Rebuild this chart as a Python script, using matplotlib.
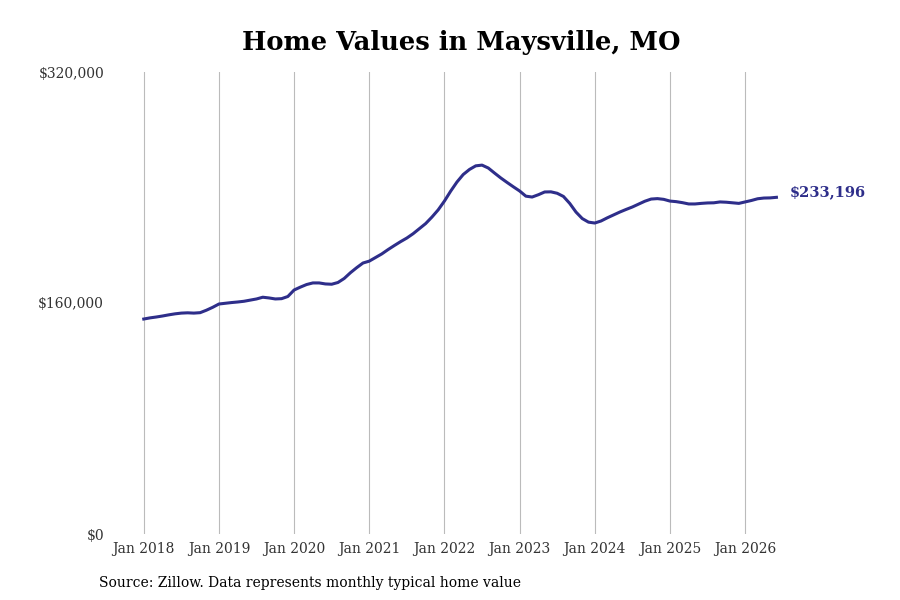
import matplotlib
matplotlib.use("Agg")
import matplotlib.pyplot as plt
import numpy as np

start_year = 2018
values_k = [
 148.9,149.7,150.3,151.0,151.8,152.5,153.0,153.2,153.0,153.3,155.0,157.0,
 159.3,159.8,160.3,160.7,161.2,162.0,162.8,164.0,163.5,162.8,163.0,164.5,
 169.0,171.0,172.8,173.9,173.9,173.2,173.0,174.2,177.0,181.0,184.5,187.7,
 189.0,191.5,194.0,197.0,199.8,202.5,205.0,208.0,211.5,215.0,219.5,224.5,
 230.6,237.5,243.8,249.0,252.5,255.0,255.5,253.5,250.0,246.6,243.5,240.5,
 237.6,234.0,233.4,235.0,236.9,237.0,236.0,233.8,229.0,223.0,218.5,216.0,
 215.4,216.8,219.0,221.0,223.0,224.8,226.5,228.5,230.5,232.0,232.3,231.8,
 230.6,230.2,229.5,228.6,228.6,229.0,229.3,229.4,230.0,229.8,229.4,229.0,
 230.0,231.0,232.2,232.7,232.8,233.196,
]
values = np.array(values_k) * 1000
x = start_year + np.arange(len(values)) / 12

plt.rcParams['font.family'] = ['DejaVu Serif']
fig = plt.figure(figsize=(9, 6), dpi=100)
ax = fig.add_axes([0.128, 0.11, 0.75, 0.77])
ax.plot(x, values, color='#2e2e8a', lw=2.2)
ax.set_ylim(0, 320000)
ax.set_xlim(2017.62, 2026.6)
ax.set_yticks([0, 160000, 320000])
ax.set_yticklabels(['$0', '$160,000', '$320,000'], fontsize=10, color='#333')
years = list(range(2018, 2027))
ax.set_xticks(years)
ax.set_xticklabels([f'Jan {y}' for y in years], fontsize=10, color='#333')
ax.grid(axis='x', color='#bbbbbb', lw=0.8)
for s in ax.spines.values():
    s.set_visible(False)
ax.tick_params(length=0, pad=6)
ax.tick_params(axis='y', pad=8)
ax.text(x[-1] + 0.18, values[-1] + 3500, f'${values[-1]:,.0f}', color='#2e2e8a',
        fontsize=10.5, fontweight='bold', va='center')
fig.suptitle('Home Values in Maysville, MO', fontsize=18.5, fontweight='bold', x=0.512, y=0.95)
fig.text(0.11, 0.022, 'Source: Zillow. Data represents monthly typical home value', fontsize=10)
fig.savefig('out.png', dpi=100)
